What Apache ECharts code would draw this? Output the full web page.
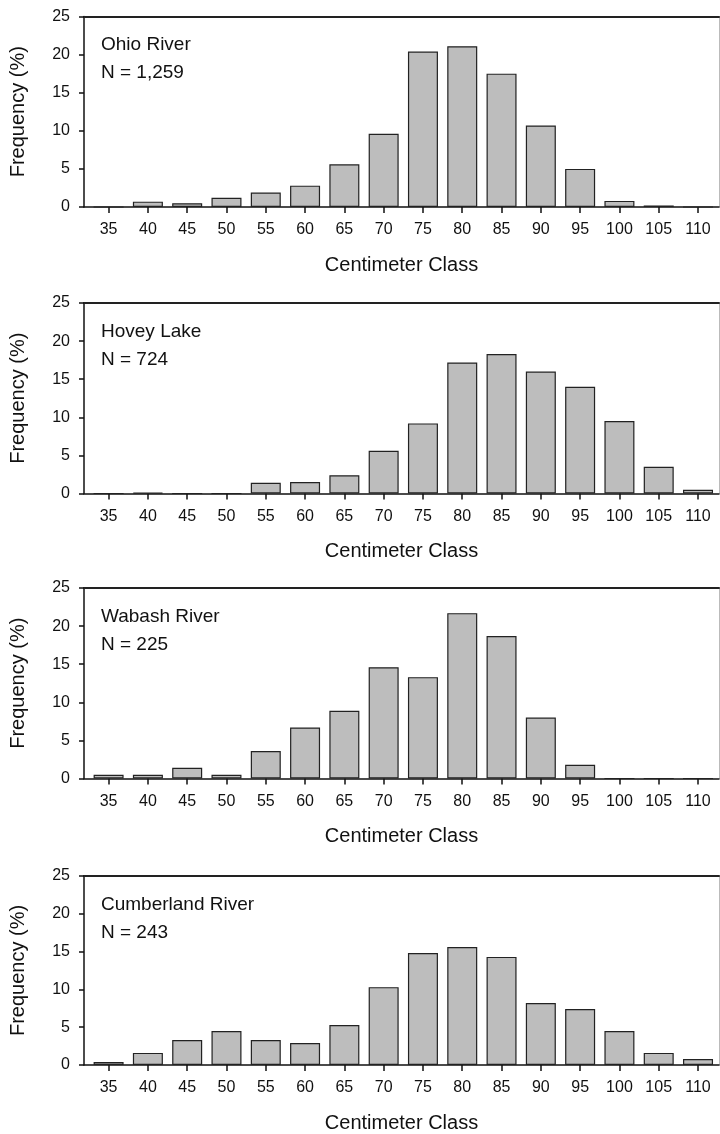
<!DOCTYPE html>
<html>
<head>
<meta charset="utf-8">
<script src="https://cdn.jsdelivr.net/npm/echarts@6/dist/echarts.min.js"></script>
<style>
html, body { margin: 0; padding: 0; background: #fff; }
#chart { width: 720px; height: 1134px; }
</style>
</head>
<body>
<div id="chart"></div>
<script>
// centimeter classes (x tick labels)
var classes = [35, 40, 45, 50, 55, 60, 65, 70, 75, 80, 85, 90, 95, 100, 105, 110];
// frequency (%) per class
var ohio       = [0, 0.7, 0.5, 1.2, 1.9, 2.8, 5.6, 9.6, 20.4, 21.1, 17.5, 10.7, 5.0, 0.8, 0.2, 0];
var hovey      = [0, 0.1, 0, 0, 1.4, 1.5, 2.4, 5.6, 9.2, 17.2, 18.3, 16.0, 14.0, 9.5, 3.5, 0.5];
var wabash     = [0.5, 0.5, 1.4, 0.5, 3.6, 6.7, 8.9, 14.6, 13.3, 21.7, 18.7, 8.0, 1.8, 0, 0, 0];
var cumberland = [0.4, 1.6, 3.3, 4.5, 3.3, 2.9, 5.3, 10.3, 14.8, 15.6, 14.3, 8.2, 7.4, 4.5, 1.6, 0.8];

var panelNames = ['Ohio River', 'Hovey Lake', 'Wabash River', 'Cumberland River'];
var panelN = ['N = 1,259', 'N = 724', 'N = 225', 'N = 243'];
var panelData = [ohio, hovey, wabash, cumberland];

var tops = [16.5, 303, 588, 876];
var plotH = 190.5;
var font = 'Liberation Sans, Arial, sans-serif';
var ink = '#111';

var myChart = echarts.init(document.getElementById('chart'));

var grid = [], xAxis = [], yAxis = [], series = [], title = [];
for (var p = 0; p < 4; p++) {
    grid.push({left: 82, width: 637, top: tops[p], height: plotH});
    // bottom axis
    xAxis.push({
        type: 'value', gridIndex: p, min: 31.87, max: 112.67,
        name: 'Centimeter Class', nameLocation: 'middle', nameGap: 48,
        nameTextStyle: {fontFamily: font, fontSize: 20, color: ink},
        splitLine: {show: false},
        axisLine: {show: true, lineStyle: {color: ink, width: 1.5}},
        axisTick: {show: true, length: 6, customValues: classes, lineStyle: {color: ink, width: 1.5}},
        axisLabel: {customValues: classes, margin: 15, fontFamily: font, fontSize: 16, color: ink}
    });
    // top frame line
    xAxis.push({
        type: 'value', gridIndex: p, position: 'top', min: 31.87, max: 112.67,
        splitLine: {show: false}, axisTick: {show: false}, axisLabel: {show: false},
        axisLine: {show: true, onZero: false, lineStyle: {color: '#222', width: 2}}
    });
    yAxis.push({
        type: 'value', gridIndex: p, min: 0, max: 25, interval: 5,
        name: 'Frequency (%)', nameLocation: 'middle', nameGap: 56,
        nameTextStyle: {fontFamily: font, fontSize: 20, color: ink},
        splitLine: {show: false},
        axisLine: {show: true, onZero: false, lineStyle: {color: ink, width: 1.5}},
        axisTick: {show: true, length: 5, lineStyle: {color: ink, width: 1.5}},
        axisLabel: {margin: 14, fontFamily: font, fontSize: 16, color: ink}
    });
    // faint right frame line
    yAxis.push({
        type: 'value', gridIndex: p, position: 'right', min: 0, max: 25,
        splitLine: {show: false}, axisTick: {show: false}, axisLabel: {show: false},
        axisLine: {show: true, onZero: false, lineStyle: {color: '#bbb', width: 1}}
    });
    series.push({
        type: 'bar', xAxisIndex: 2 * p, yAxisIndex: 2 * p,
        barWidth: 30,
        itemStyle: {color: '#bdbdbd', borderColor: '#222', borderWidth: 1.2},
        data: classes.map(function (c, i) { return [c, panelData[p][i]]; })
    });
    title.push({
        text: panelNames[p] + '\n' + panelN[p],
        left: 101, top: tops[p] + 14.5, padding: 0,
        textStyle: {fontFamily: font, fontSize: 19, fontWeight: 'normal', color: ink, lineHeight: 28}
    });
}

myChart.setOption({
    animation: false,
    title: title,
    grid: grid,
    xAxis: xAxis,
    yAxis: yAxis,
    series: series
});
</script>
</body>
</html>
